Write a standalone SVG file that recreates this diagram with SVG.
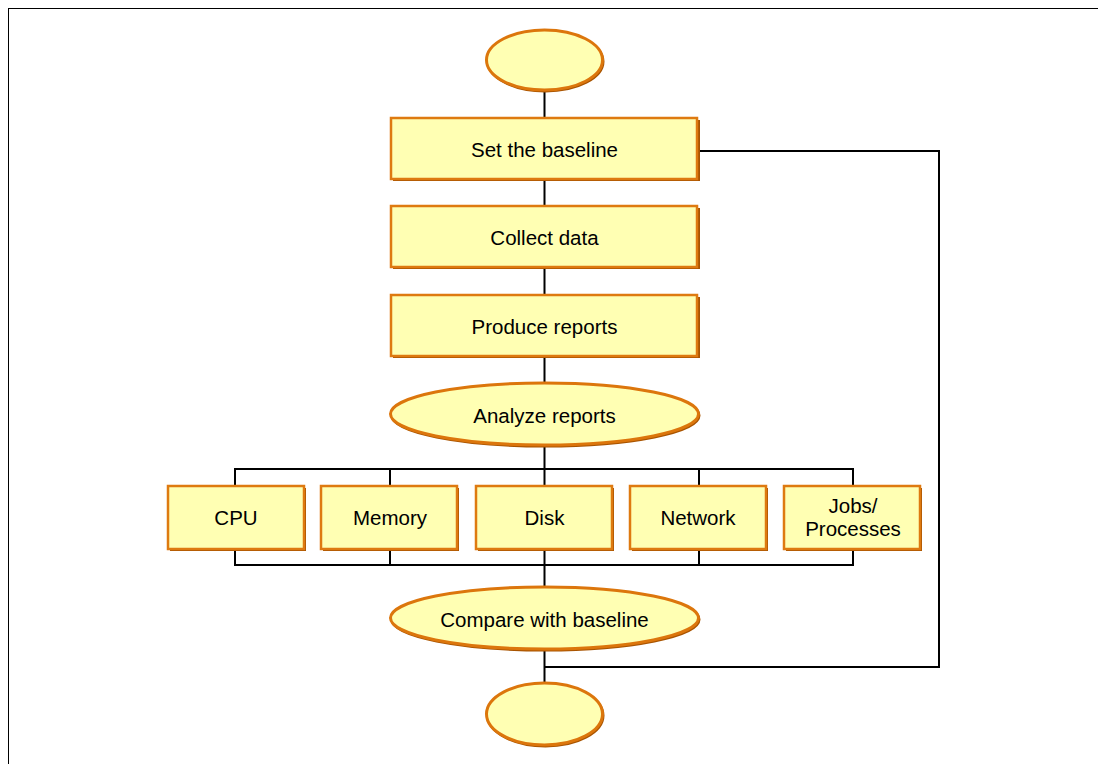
<svg xmlns="http://www.w3.org/2000/svg" width="1098" height="764" viewBox="0 0 1098 764">
<style>
.sh{fill:#a85400;}
.bx{fill:#ffffb3;stroke:#de7a10;stroke-width:2.5;}
.el{fill:#ffffb3;stroke:#dc760c;stroke-width:3;}
.esh{fill:none;stroke:#a85400;stroke-width:2;}
.t{font-family:"Liberation Sans",Arial,sans-serif;font-size:20.5px;fill:#000;text-anchor:middle;}
.c{fill:none;stroke:#000;stroke-width:2;}
</style>
<rect x="0" y="0" width="1098" height="764" fill="#fff"/>
<rect x="8.5" y="8.5" width="1100" height="770" fill="none" stroke="#000" stroke-width="1"/>
<g id="connectors">
<path class="c" d="M544.5 90V118M544.5 179V206M544.5 267V295M544.5 356V384M544.5 445V486"/>
<path class="c" d="M235 486V469H853V486M390 469V486M699 469V486"/>
<path class="c" d="M235 550V565H853V550M390 550V565M699 550V565M544.5 550V588"/>
<path class="c" d="M544.5 649V683"/>
<path class="c" d="M699 151H939V667H544.5"/>
</g>
<g id="start">
<ellipse class="esh" cx="545.5" cy="61.5" rx="58" ry="30"/>
<ellipse class="el" cx="544.5" cy="60" rx="58" ry="30"/>
</g>
<g id="set-baseline">
<rect class="sh" x="393" y="120" width="307" height="61"/>
<rect class="bx" x="391" y="118" width="306" height="61"/>
<text class="t" x="544.5" y="157">Set the baseline</text>
</g>
<g id="collect-data">
<rect class="sh" x="393" y="208" width="307" height="61"/>
<rect class="bx" x="391" y="206" width="306" height="61"/>
<text class="t" x="544.5" y="245">Collect data</text>
</g>
<g id="produce-reports">
<rect class="sh" x="393" y="297" width="307" height="61"/>
<rect class="bx" x="391" y="295" width="306" height="61"/>
<text class="t" x="544.5" y="334">Produce reports</text>
</g>
<g id="analyze-reports">
<ellipse class="esh" cx="545.5" cy="415.5" rx="154" ry="31"/>
<ellipse class="el" cx="544.5" cy="414" rx="154" ry="31"/>
<text class="t" x="544.5" y="423">Analyze reports</text>
</g>
<g id="cpu">
<rect class="sh" x="170" y="488" width="136" height="63"/>
<rect class="bx" x="168" y="486" width="136" height="63"/>
<text class="t" x="236" y="525">CPU</text>
</g>
<g id="memory">
<rect class="sh" x="323" y="488" width="136" height="63"/>
<rect class="bx" x="321" y="486" width="136" height="63"/>
<text class="t" x="390" y="525">Memory</text>
</g>
<g id="disk">
<rect class="sh" x="478" y="488" width="136" height="63"/>
<rect class="bx" x="476" y="486" width="136" height="63"/>
<text class="t" x="544.5" y="525">Disk</text>
</g>
<g id="network">
<rect class="sh" x="632" y="488" width="136" height="63"/>
<rect class="bx" x="630" y="486" width="136" height="63"/>
<text class="t" x="698" y="525">Network</text>
</g>
<g id="jobs-processes">
<rect class="sh" x="786" y="488" width="136" height="63"/>
<rect class="bx" x="784" y="486" width="136" height="63"/>
<text class="t" x="853" y="513">Jobs/</text>
<text class="t" x="853" y="536">Processes</text>
</g>
<g id="compare-baseline">
<ellipse class="esh" cx="545.5" cy="619.5" rx="154" ry="31"/>
<ellipse class="el" cx="544.5" cy="618" rx="154" ry="31"/>
<text class="t" x="544.5" y="627">Compare with baseline</text>
</g>
<g id="end">
<ellipse class="esh" cx="545.5" cy="715.5" rx="58" ry="31"/>
<ellipse class="el" cx="544.5" cy="714" rx="58" ry="31"/>
</g>
</svg>
